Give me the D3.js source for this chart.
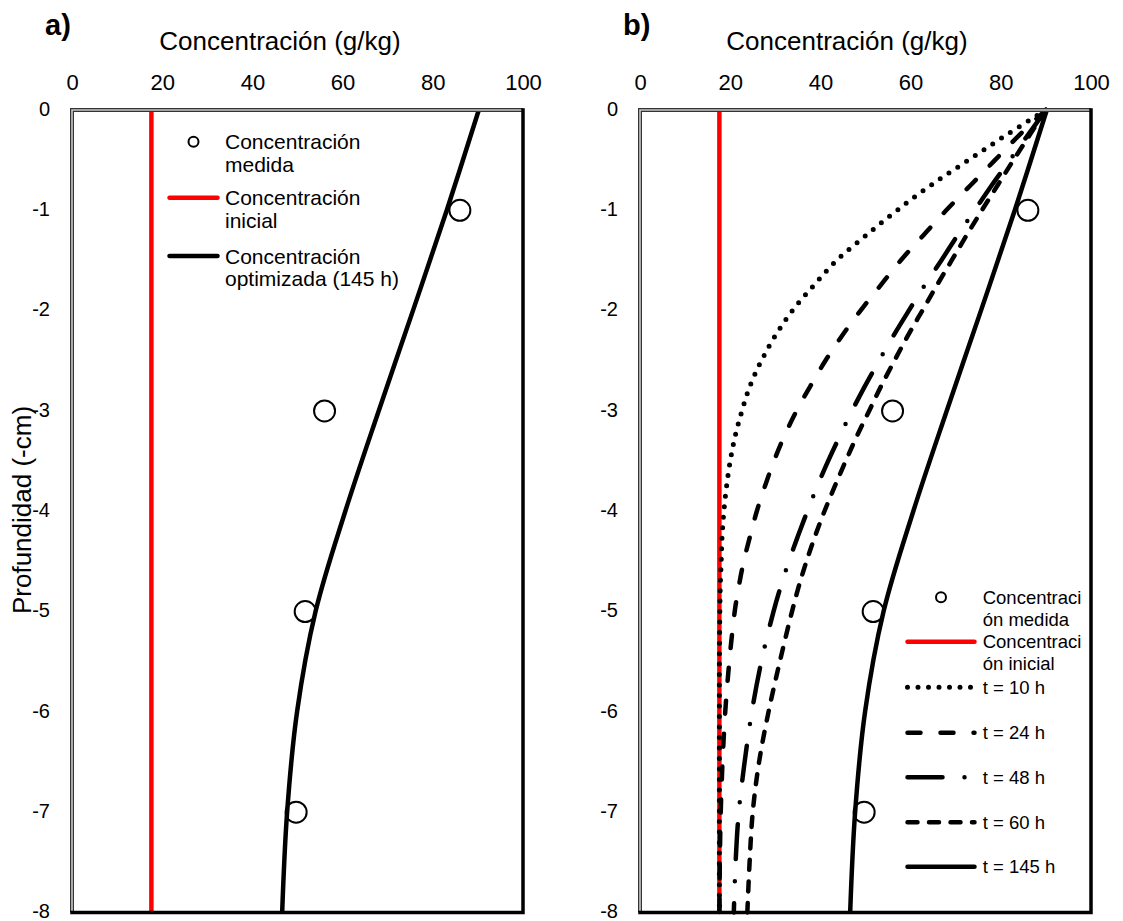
<!DOCTYPE html>
<html>
<head>
<meta charset="utf-8">
<script src="https://cdn.jsdelivr.net/npm/d3@7"></script>
<style>
  body { margin: 0; background: #fff; }
  svg { display: block; font-family: "Liberation Sans", Arial, Helvetica, sans-serif; }
</style>
</head>
<body>
<svg id="chart" width="1123" height="921"></svg>
<script>
// ---- data ----
const concTicks = [0, 20, 40, 60, 80, 100];
const concTickLabels = ["0", "20", "40", "60", "80", "100"];
const depthTicks = [0, -1, -2, -3, -4, -5, -6, -7, -8];
const depthTickLabels = ["0", "-1", "-2", "-3", "-4", "-5", "-6", "-7", "-8"];

// measured concentration (g/kg) at depth (cm)
const measuredDepth = [-1, -3, -5, -7];
const measuredConc = [86.0, 56.0, 51.7, 49.7];

// initial concentration (g/kg)
const initialConc = 17.6;

// simulated profiles (g/kg) at depth (cm)
const profileDepth = [0, -0.25, -0.5, -0.75, -1, -1.25, -1.5, -1.75, -2, -2.25, -2.5, -2.75, -3, -3.25, -3.5, -3.75, -4, -4.25, -4.5, -4.75, -5, -5.5, -6, -6.5, -7, -7.5, -8];
const conc10h = [90, 81.2, 72.8, 64.5, 57.0, 50.1, 43.6, 38.5, 33.8, 30.0, 26.9, 24.4, 22.6, 21.1, 20.0, 19.2, 18.6, 18.2, 18.0, 17.8, 17.7, 17.6, 17.6, 17.6, 17.6, 17.6, 17.6];
const conc24h = [90, 84.1, 78.7, 73.3, 67.9, 62.8, 57.8, 53.3, 48.9, 44.8, 41.1, 37.8, 34.7, 32.0, 29.7, 27.7, 25.9, 24.4, 23.0, 21.9, 21.0, 19.8, 18.9, 18.3, 17.9, 17.7, 17.6];
const conc48h = [90, 86.0, 82.0, 78.0, 74.2, 70.4, 66.8, 63.1, 59.6, 56.2, 53.0, 49.9, 47.0, 44.3, 41.7, 39.3, 37.1, 35.0, 33.0, 31.2, 29.6, 26.9, 24.8, 23.2, 21.9, 21.2, 20.8];
const conc60h = [90, 86.4, 82.8, 79.3, 75.8, 72.4, 69.1, 65.8, 62.6, 59.4, 56.4, 53.5, 50.8, 48.1, 45.6, 43.2, 40.9, 38.8, 36.9, 35.2, 33.7, 31.0, 28.5, 26.4, 25.0, 24.3, 23.8];
const optDepth = [0, -1, -2, -3, -4, -5, -6, -7, -8];
const conc145h = [90.2, 83.1, 75.6, 68.0, 60.6, 54.0, 49.9, 47.7, 46.6];

const xTitle = "Concentración (g/kg)";
const yTitle = "Profundidad (-cm)";

// ---- drawing ----
const svg = d3.select("#chart");
const FONT_TICK_X = 22, FONT_TICK_Y = 20, FONT_TITLE = 26;

const styles = {
  dotted:    { dash: "0 10.5", width: 5 },
  longDash:  { dash: "13 20", width: 4.5 },
  dashDot:   { dash: "35 22 0 22", width: 4.5 },
  shortDash: { dash: "10 11.5", width: 4.5 },
  solid:     { dash: null, width: 4.5 }
};

function drawPanel(opt) {
  const g = svg.append("g");
  const x = d3.scaleLinear().domain([0, 100]).range([opt.x0, opt.x1]);
  const y = d3.scaleLinear().domain([0, -8]).range([110, 912.5]);

  g.append("rect").attr("x", opt.x0).attr("y", y(0)).attr("width", opt.x1 - opt.x0)
    .attr("height", y(-8) - y(0)).attr("fill", "#fff");

  // concentration axis along the top
  const ax = g.append("g").attr("transform", `translate(0,${y(0)})`)
    .call(d3.axisTop(x).tickValues(concTicks).tickSize(0).tickPadding(20)
      .tickFormat((d, i) => concTickLabels[i]));
  ax.select(".domain").remove();
  ax.selectAll("text").attr("font-size", FONT_TICK_X).attr("fill", "#000")
    .attr("font-family", "'Liberation Sans', Arial, sans-serif");

  // depth axis
  const ay = g.append("g").attr("transform", `translate(${opt.x0},0)`)
    .call(d3.axisLeft(y).tickValues(depthTicks).tickSize(0).tickPadding(22)
      .tickFormat((d, i) => depthTickLabels[i]));
  ay.select(".domain").remove();
  ay.selectAll("text").attr("font-size", FONT_TICK_Y).attr("fill", "#000")
    .attr("dy", "0.26em")
    .attr("font-family", "'Liberation Sans', Arial, sans-serif");

  // titles
  g.append("text").attr("x", opt.titleX).attr("y", 50).attr("text-anchor", "middle")
    .attr("font-size", FONT_TITLE).text(xTitle);
  g.append("text").attr("x", opt.letterX).attr("y", 35).attr("font-size", 29)
    .attr("font-weight", "bold").text(opt.letter);

  const plot = g.append("g");

  // initial concentration
  plot.append("line").attr("x1", x(initialConc)).attr("x2", x(initialConc))
    .attr("y1", y(0)).attr("y2", y(-8)).attr("stroke", "#ff0000").attr("stroke-width", 4.5);

  // measured points
  plot.selectAll("circle.meas").data(measuredConc).enter().append("circle")
    .attr("class", "meas")
    .attr("cx", d => x(d)).attr("cy", (d, i) => y(measuredDepth[i])).attr("r", 10.5)
    .attr("fill", "#fff").attr("stroke", "#000").attr("stroke-width", 2);

  const line = d3.line().x(d => x(d[0])).y(d => y(d[1])).curve(d3.curveCatmullRom.alpha(0.5));

  opt.series.forEach(s => {
    const pts = s.values.map((v, i) => [v, s.depth[i]]);
    const st = styles[s.style];
    const p = plot.append("path").datum(pts).attr("d", line)
      .attr("fill", "none").attr("stroke", "#000").attr("stroke-width", st.width)
      .attr("stroke-linejoin", "round");
    if (st.dash) p.attr("stroke-dasharray", st.dash).attr("stroke-linecap", "round");
  });

  // frame edges: shaded top/left, heavy right/bottom
  const top = y(0), bot = y(-8);
  g.append("path").attr("d", `M${opt.x0},${bot} V${top} H${opt.x1}`)
    .attr("fill", "none").attr("stroke", "#333").attr("stroke-width", 4);
  g.append("path").attr("d", `M${opt.x0},${bot} V${top} H${opt.x1}`)
    .attr("fill", "none").attr("stroke", "#c8c8c8").attr("stroke-width", 1.6);
  g.append("path").attr("d", `M${opt.x1},${top} V${bot} H${opt.x0}`)
    .attr("fill", "none").attr("stroke", "#000").attr("stroke-width", 3.5)
    .attr("stroke-linecap", "square");

  // legend
  const lg = g.append("g").attr("font-size", opt.legend.font);
  opt.legend.items.forEach(it => {
    if (it.kind === "marker") {
      lg.append("circle").attr("cx", (opt.legend.x1 + opt.legend.x2) / 2).attr("cy", it.y)
        .attr("r", 5).attr("fill", "#fff").attr("stroke", "#000").attr("stroke-width", 2);
    } else {
      const st = it.color ? { dash: null, width: 4.5 } : styles[it.style];
      const l = lg.append("line").attr("x1", opt.legend.x1 + 2.5).attr("x2", opt.legend.x2 - 2.5)
        .attr("y1", it.y).attr("y2", it.y).attr("stroke", it.color || "#000")
        .attr("stroke-width", st.width).attr("stroke-linecap", "round");
      if (st.dash) l.attr("stroke-dasharray", st.dash);
    }
    it.lines.forEach((t, k) => {
      lg.append("text").attr("x", opt.legend.tx)
        .attr("y", it.y + k * opt.legend.lh + opt.legend.font * 0.36).text(t);
    });
  });
}

drawPanel({
  x0: 72, x1: 523, titleX: 280, letter: "a)", letterX: 45,
  series: [{ values: conc145h, depth: optDepth, style: "solid" }],
  legend: {
    font: 21, lh: 22.5, x1: 167, x2: 220, tx: 225,
    items: [
      { kind: "marker", y: 141.7, lines: ["Concentración", "medida"] },
      { kind: "line", color: "#ff0000", y: 197.7, lines: ["Concentración", "inicial"] },
      { kind: "line", style: "solid", y: 256, lines: ["Concentración", "optimizada (145 h)"] }
    ]
  }
});

drawPanel({
  x0: 640, x1: 1091, titleX: 847, letter: "b)", letterX: 623,
  series: [
    { values: conc10h, depth: profileDepth, style: "dotted" },
    { values: conc24h, depth: profileDepth, style: "longDash" },
    { values: conc48h, depth: profileDepth, style: "dashDot" },
    { values: conc60h, depth: profileDepth, style: "shortDash" },
    { values: conc145h, depth: optDepth, style: "solid" }
  ],
  legend: {
    font: 18.5, lh: 22, x1: 905, x2: 977, tx: 982.7,
    items: [
      { kind: "marker", y: 597.3, lines: ["Concentraci", "ón medida"] },
      { kind: "line", color: "#ff0000", y: 641.7, lines: ["Concentraci", "ón inicial"] },
      { kind: "line", style: "dotted", y: 687.3, lines: ["t = 10 h"] },
      { kind: "line", style: "longDash", y: 732.7, lines: ["t = 24 h"] },
      { kind: "line", style: "dashDot", y: 777.3, lines: ["t = 48 h"] },
      { kind: "line", style: "shortDash", y: 822.3, lines: ["t = 60 h"] },
      { kind: "line", style: "solid", y: 866.7, lines: ["t = 145 h"] }
    ]
  }
});

// depth axis title
svg.append("text").attr("transform", "translate(31,510) rotate(-90)")
  .attr("text-anchor", "middle").attr("font-size", FONT_TITLE).text(yTitle);
</script>
</body>
</html>
